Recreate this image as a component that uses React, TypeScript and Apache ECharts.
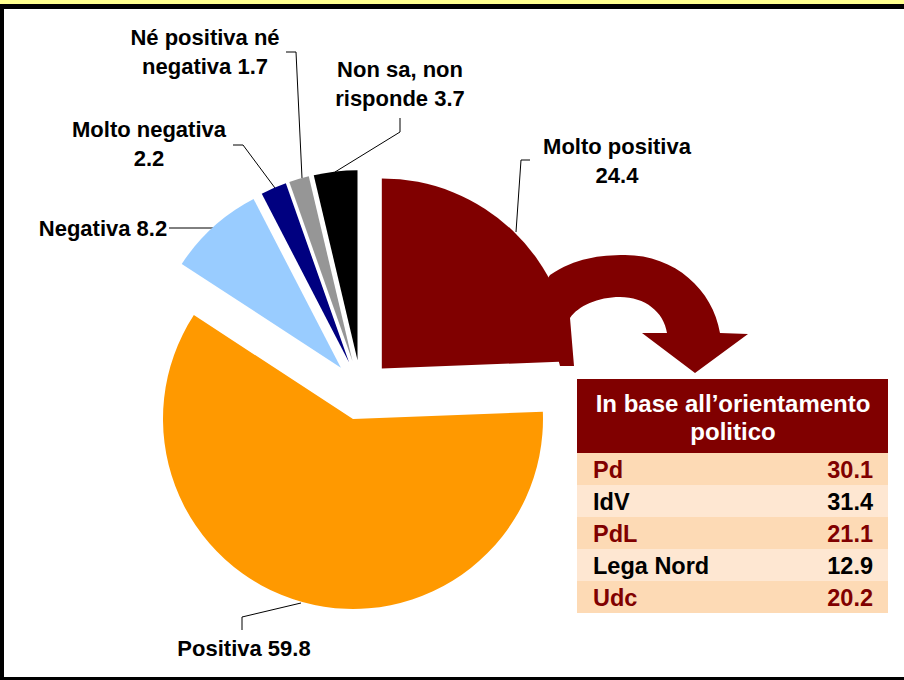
import React, { useEffect, useRef } from 'react';
import * as echarts from 'echarts';

// ---- Data ----
const categories = [
  'Molto positiva',
  'Positiva',
  'Negativa',
  'Molto negativa',
  'Né positiva né negativa',
  'Non sa, non risponde',
];
const values = [24.4, 59.8, 8.2, 2.2, 1.7, 3.7];
const labelNames = [
  'Molto positiva\n',
  'Positiva ',
  'Negativa ',
  'Molto negativa\n',
  'Né positiva né\nnegativa ',
  'Non sa, non\nrisponde ',
];
const tableTitle = 'In base all’orientamento\npolitico';
const parties = ['Pd', 'IdV', 'PdL', 'Lega Nord', 'Udc'];
const partyValues = [30.1, 31.4, 21.1, 12.9, 20.2];

// ---- Styles / layout ----
const sliceColors = ['#800000', '#FF9900', '#99CCFF', '#000080', '#969696', '#000000'];
const partyColors = ['#800000', '#000000', '#800000', '#000000', '#800000'];
const rowColors = ['#FDDAB5', '#FEE7D2'];
const FONT = '"Liberation Sans", Arial, sans-serif';

const labelLayouts: { x: number; y: number; line: number[][] }[] = [
  { x: 617, y: 161, line: [[516, 232], [521, 160], [530, 160]] },
  { x: 244, y: 648, line: [[301, 603], [242, 617], [242, 630]] },
  { x: 103, y: 228, line: [[216, 228], [192, 228], [169, 228]] },
  { x: 149, y: 144, line: [[275, 188], [243, 145], [233, 145]] },
  { x: 205, y: 52, line: [[302, 178], [296, 52], [286, 52]] },
  { x: 400, y: 84, line: [[335, 172], [400, 132], [400, 118]] },
];

const PIE_CENTER = [361, 390];
const EXPLODE = 30;
const RADIUS = 190;

const arrowPath =
  'M 540 290 L 550 275 C 575 258 600 255 625 255 C 675 255 713 290 720 333 L 748 334 L 695 373 L 642 333 L 667 333 C 664 312 645 297 620 297 C 598 297 578 306 570 318 L 574 366 L 560 366 Z';

let registered = false;
function ensureShapes() {
  if (registered) return;
  echarts.graphic.registerShape('curvedArrow', (echarts.graphic as any).extendPath(arrowPath, {}));
  registered = true;
}

export default function App() {
  const ref = useRef<HTMLDivElement>(null);

  useEffect(() => {
    if (!ref.current) return;
    ensureShapes();
    const chart = echarts.init(ref.current, undefined, { renderer: 'svg' });

    const total = values.reduce((a, b) => a + b, 0);
    let cum = 0;
    const series = values.map((v, i) => {
      const mid = ((cum + v / 2) / total) * Math.PI * 2;
      cum += v;
      const cx = PIE_CENTER[0] + EXPLODE * Math.sin(mid);
      const cy = PIE_CENTER[1] - EXPLODE * Math.cos(mid);
      return {
        type: 'pie',
        radius: RADIUS,
        center: [cx, cy],
        startAngle: 90,
        clockwise: true,
        silent: true,
        avoidLabelOverlap: false,
        z: 2,
        label: {
          show: true,
          position: 'outside',
          color: '#000',
          fontFamily: FONT,
          fontWeight: 'bold',
          fontSize: 22,
          lineHeight: 29,
          align: 'center',
          formatter: (p: any) => labelNames[p.dataIndex] + Number(p.value).toFixed(1),
        },
        labelLine: { show: true, lineStyle: { color: '#000', width: 1 } },
        labelLayout: (p: any) => {
          const L = labelLayouts[p.dataIndex];
          return {
            x: L.x,
            y: L.y,
            align: 'center',
            verticalAlign: 'middle',
            labelLinePoints: L.line,
          };
        },
        data: values.map((val, j) => ({
          value: val,
          name: categories[j],
          itemStyle: { color: j === i ? sliceColors[j] : 'rgba(0,0,0,0)', borderWidth: 0 },
          label: { show: j === i },
          labelLine: { show: j === i },
        })),
      };
    });

    const graphics: any[] = [
      { type: 'rect', shape: { x: 0, y: 0, width: 904, height: 4 }, style: { fill: '#FFFF8F' }, z: 20 },
      { type: 'rect', shape: { x: 0, y: 4, width: 904, height: 5 }, style: { fill: '#000' }, z: 20 },
      { type: 'rect', shape: { x: 0, y: 4, width: 4, height: 676 }, style: { fill: '#000' }, z: 20 },
      { type: 'rect', shape: { x: 0, y: 677, width: 904, height: 3 }, style: { fill: '#000' }, z: 20 },
      { type: 'curvedArrow', x: 0, y: 0, style: { fill: '#800000' }, z: 10 },
      { type: 'rect', shape: { x: 577, y: 379, width: 311, height: 74 }, style: { fill: '#800000' }, z: 10 },
      {
        type: 'text',
        x: 733,
        y: 417,
        z: 11,
        style: {
          text: tableTitle,
          fill: '#fff',
          font: `bold 24px ${FONT}`,
          lineHeight: 28,
          align: 'center',
          verticalAlign: 'middle',
        },
      },
    ];
    parties.forEach((p, i) => {
      const top = 453 + i * 32;
      graphics.push({
        type: 'rect',
        shape: { x: 577, y: top, width: 311, height: 32 },
        style: { fill: rowColors[i % 2] },
        z: 10,
      });
      graphics.push({
        type: 'text',
        x: 593,
        y: top + 17,
        z: 11,
        style: { text: p, fill: partyColors[i], font: `bold 23.5px ${FONT}`, align: 'left', verticalAlign: 'middle' },
      });
      graphics.push({
        type: 'text',
        x: 873,
        y: top + 17,
        z: 11,
        style: {
          text: partyValues[i].toFixed(1),
          fill: partyColors[i],
          font: `bold 23.5px ${FONT}`,
          align: 'right',
          verticalAlign: 'middle',
        },
      });
    });

    chart.setOption({
      animation: false,
      backgroundColor: '#fff',
      series,
      graphic: { elements: graphics },
    } as any);

    return () => chart.dispose();
  }, []);

  return (
    <div
      ref={ref}
      style={{ position: 'absolute', left: 0, top: 0, width: 904, height: 680 }}
    />
  );
}
